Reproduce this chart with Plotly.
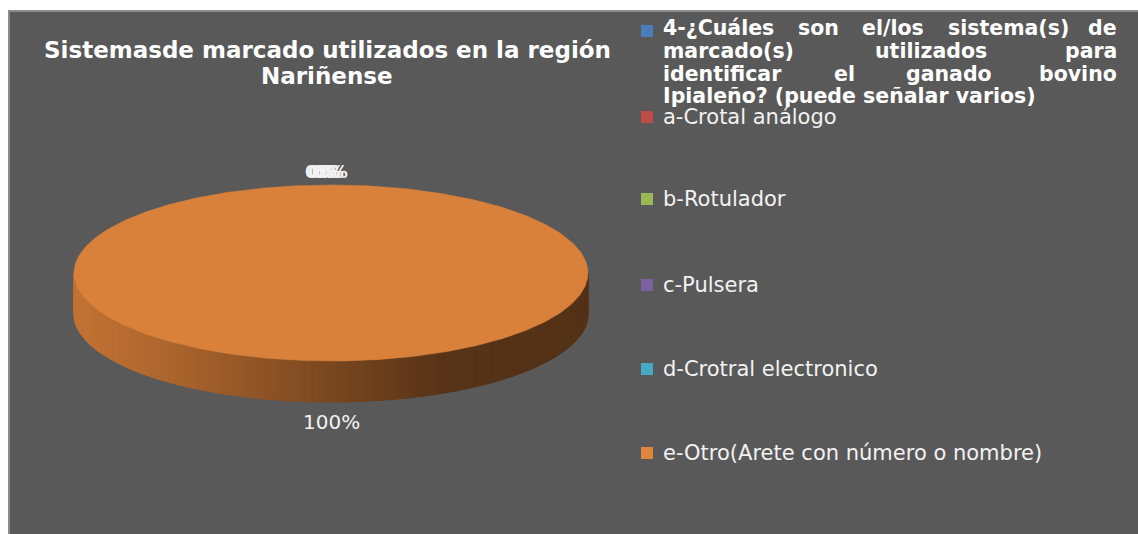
import math
import plotly.graph_objects as go

# ---------------- data ----------------
categories = [
    "4-¿Cuáles son el/los sistema(s) de marcado(s) utilizados para identificar el ganado bovino Ipialeño? (puede señalar varios)",
    "a-Crotal análogo",
    "b-Rotulador",
    "c-Pulsera",
    "d-Crotral electronico",
    "e-Otro(Arete con número o nombre)",
]
values = [0, 0, 0, 0, 0, 100]
colors = ["#4A7EBB", "#BE4B48", "#98B954", "#7D60A0", "#46AAC5", "#D9803A"]
legend_colors = ["#4A7EBB", "#BE4B48", "#98B954", "#7D60A0", "#46AAC5", "#E0863C"]
title_lines = ["Sistemasde marcado utilizados en la región", "Nariñense"]

# ---------------- layout constants ----------------
W, H = 1138, 534
BG = "#595959"
CX, CY, RA, RB, DEPTH = 331, 273, 257, 88, 41
FONT = "DejaVu Sans"

fig = go.Figure()


def hex2rgb(h):
    h = h.lstrip("#")
    return tuple(int(h[i:i + 2], 16) for i in (0, 2, 4))


def pt(theta_deg, dy=0.0):
    t = math.radians(theta_deg)
    return CX + RA * math.sin(t), CY - RB * math.cos(t) + dy


def shade_factor(x):
    t = (x - (CX - RA)) / (2 * RA)
    stops = [(0.0, 0.90), (0.15, 0.82), (0.5, 0.56), (0.72, 0.40), (1.0, 0.39)]
    for (t0, f0), (t1, f1) in zip(stops[:-1], stops[1:]):
        if t <= t1:
            u = max(0.0, (t - t0) / (t1 - t0))
            return f0 + (f1 - f0) * u
    return stops[-1][1]


total = sum(values)
starts, ends = [], []
acc = 0.0
for v in values:
    starts.append(acc / total * 360.0)
    acc += v
    ends.append(acc / total * 360.0)

# side walls (front half: 90..270 deg, clockwise from 12 o'clock)
step = 1.5
for i, (s, e) in enumerate(zip(starts, ends)):
    lo, hi = max(s, 90.0), min(e, 270.0)
    if hi <= lo:
        continue
    r, g, b = hex2rgb(colors[i])
    th = lo
    while th < hi - 1e-9:
        th2 = min(th + step, hi)
        x1, y1 = pt(th)
        x2, y2 = pt(th2)
        f = shade_factor((x1 + x2) / 2)
        col = f"rgb({int(r*f)},{int(g*f)},{int(b*f)})"
        fig.add_trace(go.Scatter(
            x=[x1, x2, x2, x1, x1], y=[y1, y2, y2 + DEPTH, y1 + DEPTH, y1],
            mode="lines", fill="toself", fillcolor=col,
            line=dict(color=col, width=1), hoverinfo="skip", showlegend=False))
        th = th2

# top faces
for i, (s, e) in enumerate(zip(starts, ends)):
    if e - s <= 0:
        continue
    n = max(2, int((e - s) / 1.0))
    xs, ys = [CX], [CY]
    for k in range(n + 1):
        x, y = pt(s + (e - s) * k / n)
        xs.append(x)
        ys.append(y)
    xs.append(CX)
    ys.append(CY)
    fig.add_trace(go.Scatter(x=xs, y=ys, mode="lines", fill="toself",
                             fillcolor=colors[i], line=dict(color=colors[i], width=0.5),
                             hoverinfo="skip", showlegend=False))

annotations = []

# data labels (zero-value labels overlap at the start angle, as in the original)
zero_k = 0
for i, (s, e, v) in enumerate(zip(starts, ends, values)):
    pct = round(v / total * 100)
    mid = (s + e) / 2
    if v == 0:
        lx, ly = pt(mid)
        lx += (zero_k - 2) * 3.5 - 5
        ly -= 13
        zero_k += 1
    else:
        lx, ly = pt(mid, DEPTH)
        ly += 20
    annotations.append(dict(x=lx, y=ly, xref="x", yref="y", text=f"{pct}%",
                            showarrow=False, xanchor="center", yanchor="middle",
                            font=dict(family=FONT, size=20 if v else 17, color="#F2F2F2",
                                      weight="normal" if v else "bold")))

# title
for j, t in enumerate(title_lines):
    annotations.append(dict(x=CX - 4, y=50 + 26 * j, xref="x", yref="y", text=t,
                            showarrow=False, xanchor="center", yanchor="middle",
                            font=dict(family=FONT, size=23, color="#FFFFFF", weight="bold")))

# legend
BOLDW = {" ": 348, "(": 457, ")": 457, "-": 415, "/": 365, "?": 580, "4": 696,
         "C": 734, "I": 372, "a": 675, "á": 675, "b": 716, "c": 593, "d": 716,
         "e": 678, "f": 435, "g": 716, "i": 343, "l": 343, "m": 1042, "n": 712,
         "ñ": 712, "o": 687, "p": 716, "r": 493, "s": 595, "t": 478, "u": 712,
         "v": 652, "z": 560, "¿": 580}
LX0, LX1 = 661, 1119
HEAD_SIZE = 20.5
head_y = [28, 51, 74, 96]
words = categories[0].split(" ")
splits = [5, 3, 4]
lines = []
k = 0
for n in splits:
    lines.append(words[k:k + n])
    k += n
lines.append(words[k:])

for li, lw in enumerate(lines):
    y = head_y[li]
    fnt = dict(family=FONT, size=HEAD_SIZE, color="#FFFFFF", weight="bold")
    if li == len(lines) - 1:
        annotations.append(dict(x=LX0, y=y, xref="x", yref="y", text=" ".join(lw),
                                showarrow=False, xanchor="left", yanchor="middle", font=fnt))
        continue
    widths = [sum(BOLDW.get(c, 650) for c in w) * HEAD_SIZE / 1000 for w in lw]
    gap = (LX1 - LX0 - sum(widths)) / (len(lw) - 1)
    x = LX0
    for wi, (w, ww) in enumerate(zip(lw, widths)):
        if wi == len(lw) - 1:
            annotations.append(dict(x=LX1, y=y, xref="x", yref="y", text=w, showarrow=False,
                                    xanchor="right", yanchor="middle", font=fnt))
        else:
            annotations.append(dict(x=x, y=y, xref="x", yref="y", text=w, showarrow=False,
                                    xanchor="left", yanchor="middle", font=fnt))
        x += ww + gap

item_y = [31, 117, 199, 285, 369, 453]
for i in range(1, len(categories)):
    annotations.append(dict(x=LX0, y=item_y[i], xref="x", yref="y", text=categories[i],
                            showarrow=False, xanchor="left", yanchor="middle",
                            font=dict(family=FONT, size=21, color="#F2F2F2")))

fig.add_trace(go.Scatter(x=[647] * len(categories), y=item_y, mode="markers",
                         marker=dict(symbol="square", size=12, color=legend_colors,
                                     line=dict(width=0)),
                         hoverinfo="skip", showlegend=False))

fig.update_layout(
    width=W, height=H, margin=dict(l=0, r=0, t=0, b=0),
    paper_bgcolor="#FFFFFF", plot_bgcolor="#FFFFFF",
    showlegend=False, hovermode=False,
    xaxis=dict(range=[0, W], visible=False, fixedrange=True),
    yaxis=dict(range=[H, 0], visible=False, fixedrange=True),
    annotations=annotations,
    shapes=[dict(type="rect", xref="x", yref="y", x0=9, y0=11, x1=W + 10, y1=H + 10,
                 fillcolor=BG, line=dict(color="#8C8C8C", width=2), layer="below")],
)

fig.write_html("out.html", post_script="document.body.style.margin='0';",
               config={"displayModeBar": False})
